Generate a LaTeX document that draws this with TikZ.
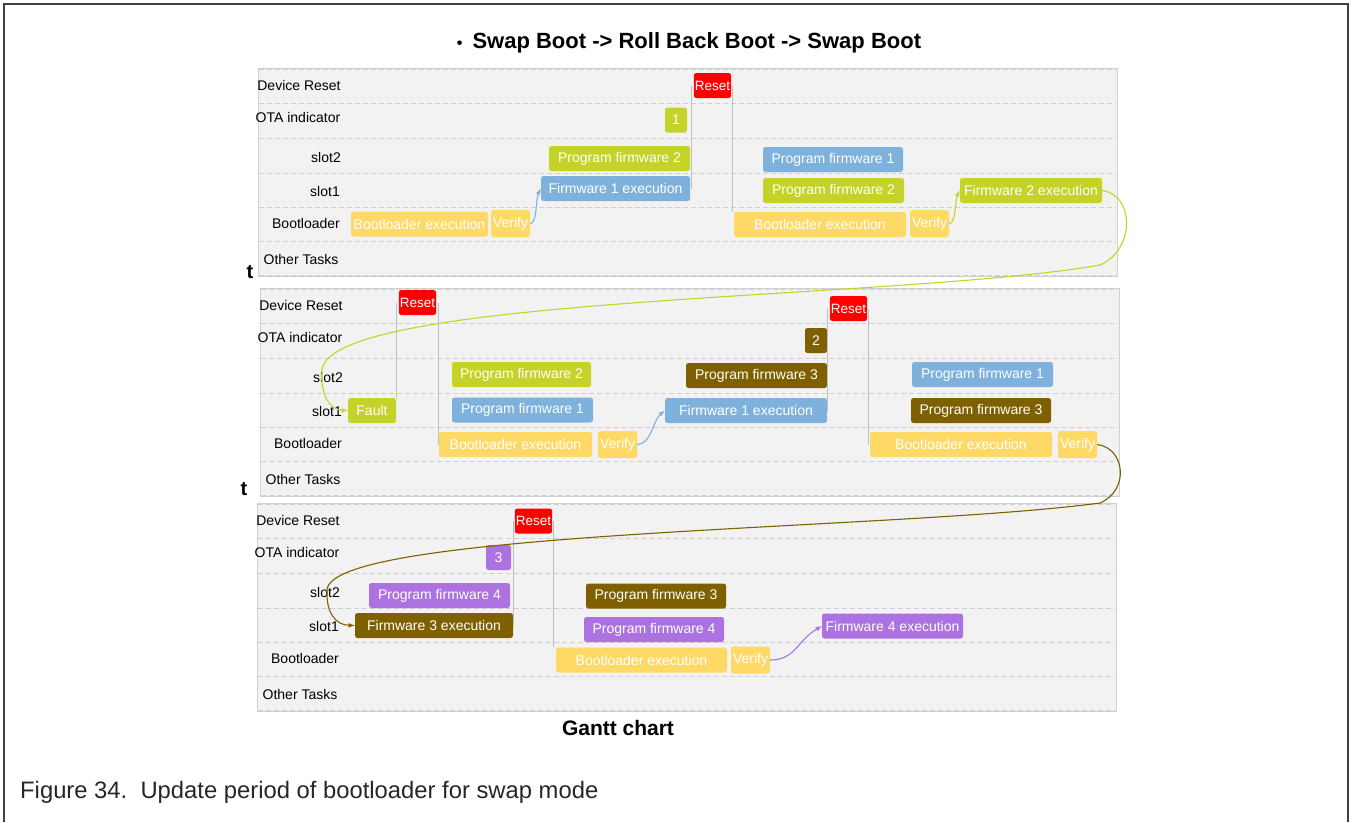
\documentclass[tikz,border=0pt]{standalone}
\usepackage{fontspec}
\setmainfont{Liberation Sans}
\definecolor{rstred}{RGB}{255,0,0}
\definecolor{fwgreen}{RGB}{197,210,40}
\definecolor{fwblue}{RGB}{126,178,220}
\definecolor{blyellow}{RGB}{255,217,102}
\definecolor{fwbrown}{RGB}{127,96,0}
\definecolor{fwpurple}{RGB}{172,114,226}
\definecolor{panelbg}{RGB}{242,242,242}
\definecolor{gridgray}{RGB}{208,208,208}
\definecolor{framegray}{RGB}{64,64,64}

\begin{document}
\begin{tikzpicture}[
    x=1pt, y=-1pt,
    panel/.style={
        draw=gridgray, fill=panelbg, line width=.8pt,
      },
    grid/.style={
        gridgray, dash pattern=on 5pt off 3pt, line width=.9pt,
      },
    rowlab/.style={
        font=\fontsize{14}{16}\selectfont, inner sep=0pt,
      },
    box/.style={
        rectangle, rounded corners=2.5pt,
        minimum height=25pt, inner sep=1pt,
        text=white, font=\fontsize{14}{16}\selectfont,
      },
    rst/.style={
        box, fill=rstred, minimum width=37pt,
        font=\fontsize{13.5}{15}\selectfont,
      },
    dep/.style={
        gray!50, line width=.9pt,
      },
    arr/.style={
        line width=1.1pt, -latex,
      }
  ]
  \useasboundingbox (0,0) rectangle (1352,822);
  \draw[framegray, line width=2.5pt] (4,822) -- (4,4) -- (1348,4) -- (1348,822);

  \node[font=\fontsize{22}{26}\selectfont\bfseries] (title) at (689,43)
    {{\fontsize{16}{16}\selectfont\textbullet}\hspace{10pt}Swap Boot -> Roll Back Boot -> Swap Boot};

  \foreach \p/\x/\y in {A/258/68, B/260/288, C/257/503}{
      \draw[panel] (\x,\y) rectangle ++(859,208);
      \foreach \dy in {1,35,70,105,139,173,207}
        \draw[grid] (\x+1,\y+\dy) -- ++(857,0);
      \foreach \n/\lx/\ly [count=\i] in {
          Device Reset/41/17,
          OTA indicator/40/49,
          slot2/68/89,
          slot1/67/123,
          Bootloader/48/155,
          Other Tasks/43/191
        }{
          \node[rowlab] (\p lab\i) at (\x+\lx,\y+\ly) {\n};
        }
    }
  \node[font=\fontsize{20}{22}\selectfont\bfseries] (tA) at (250,272) {t};
  \node[font=\fontsize{20}{22}\selectfont\bfseries] (tB) at (244,489) {t};

  \node[rst] (rstA) at (712.5,85.5) {Reset};
  \node[box, fill=fwgreen, minimum width=22pt] (otaA) at (676,120) {1};
  \node[box, fill=fwgreen, minimum width=141pt] (pfA2) at (619.5,158.5) {Program firmware 2};
  \node[box, fill=fwblue, minimum width=149pt] (feA1) at (615.5,188.5) {Firmware 1 execution};
  \node[box, fill=blyellow, minimum width=137pt] (blA) at (419.5,224) {Bootloader execution};
  \node[box, fill=blyellow, minimum width=39pt, minimum height=27pt] (vfA) at (510.5,223.5) {Verify};
  \node[box, fill=fwblue, minimum width=140pt] (pfA1b) at (833,159.5) {Program firmware 1};
  \node[box, fill=fwgreen, minimum width=141pt] (pfA2b) at (833.5,190.5) {Program firmware 2};
  \node[box, fill=blyellow, minimum width=172pt] (blAb) at (820,224.5) {Bootloader execution};
  \node[box, fill=blyellow, minimum width=39pt, minimum height=27pt] (vfAb) at (929.5,223.5) {Verify};
  \node[box, fill=fwgreen, minimum width=142pt] (feA2) at (1031,190.5) {Firmware 2 execution};

  \node[rst] (rstB) at (417.5,302.5) {Reset};
  \node[box, fill=fwgreen, minimum width=48pt] (fault) at (372,410.5) {Fault};
  \node[box, fill=fwgreen, minimum width=139pt] (pfB2) at (521.5,374.5) {Program firmware 2};
  \node[box, fill=fwblue, minimum width=141pt] (pfB1) at (522.5,410) {Program firmware 1};
  \node[box, fill=blyellow, minimum width=153pt] (blB) at (515.5,444.5) {Bootloader execution};
  \node[box, fill=blyellow, minimum width=39pt, minimum height=27pt] (vfB) at (617.5,444.5) {Verify};
  \node[box, fill=fwblue, minimum width=162pt] (feB1) at (746,410.5) {Firmware 1 execution};
  \node[box, fill=fwbrown, minimum width=141pt] (pfB3) at (756.5,375.5) {Program firmware 3};
  \node[box, fill=fwbrown, minimum width=22pt] (otaB) at (816,340.5) {2};
  \node[rst] (rstB2) at (848.5,308.5) {Reset};
  \node[box, fill=blyellow, minimum width=182pt] (blB2) at (961,444.5) {Bootloader execution};
  \node[box, fill=blyellow, minimum width=39pt, minimum height=27pt] (vfB2) at (1077.5,444.5) {Verify};
  \node[box, fill=fwblue, minimum width=141pt] (pfB1b) at (982.5,374.5) {Program firmware 1};
  \node[box, fill=fwbrown, minimum width=140pt] (pfB3b) at (981,410.5) {Program firmware 3};

  \node[rst] (rstC) at (533.5,521) {Reset};
  \node[box, fill=fwpurple, minimum width=25pt] (otaC) at (498.5,557.5) {3};
  \node[box, fill=fwpurple, minimum width=141pt] (pfC4) at (439.5,595.5) {Program firmware 4};
  \node[box, fill=fwbrown, minimum width=158pt] (feC3) at (434,625.5) {Firmware 3 execution};
  \node[box, fill=fwbrown, minimum width=140pt] (pfC3) at (656,596) {Program firmware 3};
  \node[box, fill=fwpurple, minimum width=140pt] (pfC4b) at (654,629.5) {Program firmware 4};
  \node[box, fill=blyellow, minimum width=171pt] (blC) at (641.5,660) {Bootloader execution};
  \node[box, fill=blyellow, minimum width=39pt, minimum height=27pt] (vfC) at (750.5,660) {Verify};
  \node[box, fill=fwpurple, minimum width=141pt] (feC4) at (892.5,626) {Firmware 4 execution};

  \draw[dep, transform canvas={xshift=-2pt}] (rstA.west) -- (rstA.west |- feA1.center);
  \draw[dep, transform canvas={xshift=1pt}] (rstA.east) -- (rstA.east |- blAb.north);
  \draw[dep, transform canvas={xshift=-2pt}] (rstB.west) -- (rstB.west |- fault.north);
  \draw[dep, transform canvas={xshift=2pt}] (rstB.east) -- (rstB.east |- blB.center);
  \draw[dep, transform canvas={xshift=-2pt}] (rstB2.west) -- (rstB2.west |- feB1.center);
  \draw[dep, transform canvas={xshift=1pt}] (rstB2.east) -- (rstB2.east |- blB2.center);
  \draw[dep, transform canvas={xshift=-1pt}] (rstC.west) -- (rstC.west |- feC3.center);
  \draw[dep, transform canvas={xshift=1pt}] (rstC.east) -- (rstC.east |- blC.north);

  \draw[arr, fwblue] (vfA.east) .. controls +(7,0) and +(-5,10) .. (feA1.west);
  \draw[arr, fwgreen] (vfAb.east) .. controls +(7,0) and +(-5,10) .. (feA2.west);
  \draw[arr, fwblue] (vfB.east) .. controls +(14,0) and +(-12,10) .. (feB1.west);
  \draw[arr, fwpurple] (vfC.east) .. controls +(25,0) and +(-25,15) .. (feC4.west);

  \draw[arr, fwgreen] (feA2.east) .. controls (1135,195) and (1135,250) .. (1100,265)
    .. controls (900,300) and (330,295) .. (322,370)
    .. controls (320,395) and (330,410) .. (fault.west);
  \draw[arr, fwbrown] (vfB2.east) .. controls (1125,448) and (1130,490) .. (1100,503)
    .. controls (900,530) and (330,530) .. (327,590)
    .. controls (326,612) and (335,625) .. (feC3.west);

  \node[font=\fontsize{21}{24}\selectfont\bfseries] (gantt) at (618,728) {Gantt chart};
  \node[anchor=west, inner sep=0pt, text=black!85, font=\fontsize{23.8}{26}\selectfont] (caption) at (20,792)
    {Figure 34.\ \ Update period of bootloader for swap mode};
\end{tikzpicture}
\end{document}
